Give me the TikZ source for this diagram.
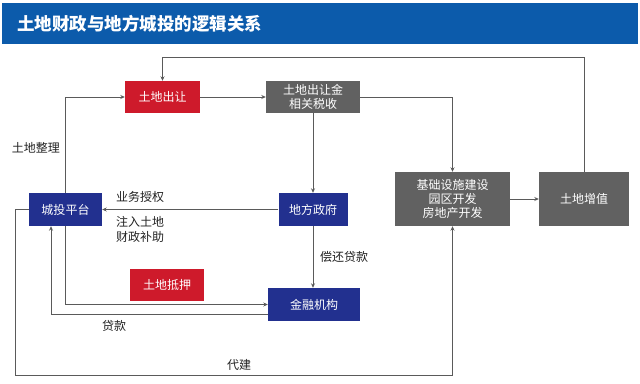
\documentclass[tikz,border=0pt]{standalone}
\usepackage{fontspec}
\setmainfont{Noto Sans CJK SC}
\usetikzlibrary{arrows.meta,calc}
\definecolor{titleblue}{HTML}{0C5BAB}
\definecolor{boxred}{HTML}{CE1A2B}
\definecolor{boxgray}{HTML}{616161}
\definecolor{boxnavy}{HTML}{22308F}
\definecolor{linegray}{HTML}{5A5A5A}
\definecolor{labelgray}{HTML}{222222}
\begin{document}
\begin{tikzpicture}[x=1pt,y=-1pt,
  box/.style={draw=none,text=white,font=\fontsize{12}{14}\selectfont,align=center,inner sep=0pt},
  redbox/.style={box,fill=boxred},
  graybox/.style={box,fill=boxgray},
  navybox/.style={box,fill=boxnavy},
  arr/.style={draw=linegray,line width=0.9pt,-{Stealth[length=4.5pt,width=4pt]}},
  lbl/.style={text=labelgray,font=\fontsize{12}{15}\selectfont,inner sep=0pt}]
\useasboundingbox (0,0) rectangle (640,383);
\fill[white] (0,0) rectangle (640,383);
\fill[titleblue] (2,3) rectangle (638,44);
\node[anchor=west,text=white,font=\fontsize{17.5}{20}\bfseries\selectfont,inner sep=0pt] (title) at (17,24) {土地财政与地方城投的逻辑关系};

\node[redbox,minimum width=75,minimum height=32] (cr) at (162.5,97) {土地出让};
\node[graybox,minimum width=94,minimum height=32] (jin) at (313,97) {土地出让金\\相关税收};
\node[navybox,minimum width=69,minimum height=33] (zf) at (313,209.5) {地方政府};
\node[navybox,minimum width=73,minimum height=33] (ct) at (65.5,209.5) {城投平台};
\node[graybox,minimum width=115,minimum height=54] (jc) at (452.5,199) {基础设施建设\\园区开发\\房地产开发};
\node[graybox,minimum width=90,minimum height=54] (zz) at (584,199) {土地增值};
\node[navybox,minimum width=92,minimum height=33] (jr) at (314,304.5) {金融机构};
\node[redbox,minimum width=74,minimum height=32] (dy) at (167,285) {土地抵押};

\coordinate (tl) at (162.5,57);
\coordinate (c1) at (15,209.5);
\coordinate (c2) at (15,375);

\draw[arr] (zz.north) |- (tl) -- (cr.north);
\draw[arr] (cr.east) -- (jin.west);
\draw[arr] (jin.east) -| (jc.north);
\draw[arr] (jin.south) -- (zf.north);
\draw[arr] (jc.east) -- (zz.west);
\draw[arr] (ct.north) |- (cr.west);
\draw[arr] (zf.west) -- (ct.east);
\draw[arr] (zf.south) -- (zf.south |- jr.north);
\draw[arr] (ct.south) |- (jr.west);
\draw[arr] ($(jr.west)+(0,9.5)$) -| ($(ct.south)+(-14.5,0)$);
\draw[arr] (ct.west) -- (c1) -- (c2) -| (jc.south);

\node[lbl] (l1) at (36,148) {土地整理};
\node[lbl,anchor=west] (l2) at (116,197) {业务授权};
\node[lbl,anchor=west,align=left] (l3) at (116,229) {注入土地\\财政补助};
\node[lbl,anchor=west] (l4) at (320,257) {偿还贷款};
\node[lbl] (l5) at (114,326) {贷款};
\node[lbl] (l6) at (239,365) {代建};
\end{tikzpicture}
\end{document}
